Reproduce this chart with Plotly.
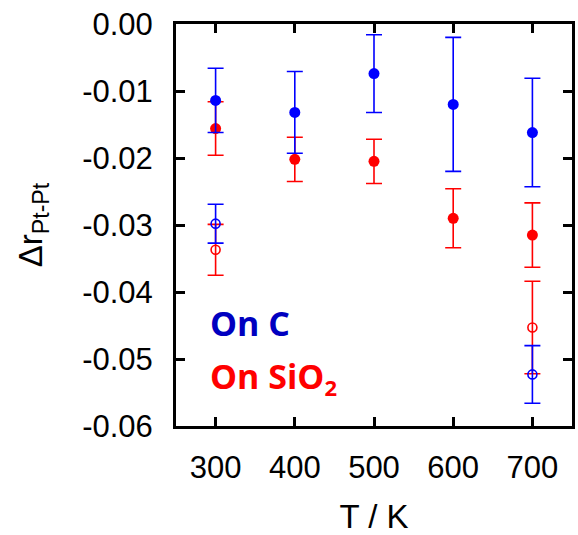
import plotly.graph_objects as go

temps = [300, 400, 500, 600, 700]
c_filled = [-0.0114, -0.0132, -0.0074, -0.0120, -0.0162]
c_filled_err = [0.0048, 0.0061, 0.0058, 0.0100, 0.0081]
si_filled = [-0.0156, -0.0202, -0.0205, -0.0290, -0.0315]
si_filled_err = [0.0040, 0.0033, 0.0033, 0.0044, 0.0048]

open_temps = [300, 700]
c_open = [-0.0298, -0.0523]
c_open_err = [0.0029, 0.0043]
si_open = [-0.0337, -0.0453]
si_open_err = [0.0038, 0.0069]

y_ticks = [0.0, -0.01, -0.02, -0.03, -0.04, -0.05, -0.06]
y_tick_text = ["0.00", "-0.01", "-0.02", "-0.03", "-0.04", "-0.05", "-0.06"]
x_ticks = [300, 400, 500, 600, 700]

BLUE = "#0000FF"
RED = "#FF0000"

fig = go.Figure()

def add(x, y, err, color, filled):
    fig.add_trace(go.Scatter(
        x=x, y=y, mode="markers",
        marker=dict(
            symbol="circle" if filled else "circle-open",
            size=11 if filled else 9,
            color=color,
            line=dict(width=0 if filled else 1.6, color=color),
        ),
        error_y=dict(type="data", array=err, visible=True, color=color,
                     thickness=1.6, width=8),
        showlegend=False,
    ))

add(open_temps, si_open, si_open_err, RED, False)
add(open_temps, c_open, c_open_err, BLUE, False)
add(temps, si_filled, si_filled_err, RED, True)
add(temps, c_filled, c_filled_err, BLUE, True)

axis_font = dict(family="Liberation Sans, Arial, sans-serif", size=31, color="black")
title_font = dict(family="Liberation Sans, Arial, sans-serif", size=33, color="black")

fig.update_layout(
    width=578, height=535,
    margin=dict(l=176, r=3, t=24, b=109),
    paper_bgcolor="white", plot_bgcolor="white",
    font=axis_font,
    xaxis=dict(
        range=[250, 750], tickvals=x_ticks, ticks="inside", ticklen=9, tickwidth=3,
        tickcolor="black", showline=True, linecolor="black", linewidth=3, mirror="ticks",
        showgrid=False, zeroline=False, tickfont=axis_font, ticklabelstandoff=12,
        title=dict(text="T / K", font=title_font, standoff=24),
    ),
    yaxis=dict(
        range=[-0.06, 0.0], tickvals=y_ticks, ticktext=y_tick_text, ticks="inside",
        ticklen=9, tickwidth=3, tickcolor="black", showline=True, linecolor="black",
        linewidth=3, mirror="ticks", showgrid=False, zeroline=False, tickfont=axis_font,
        ticklabelstandoff=14,
        title=dict(text="Δr<sub>Pt-Pt</sub>", font=title_font, standoff=30),
    ),
    annotations=[
        dict(text="<b>On C</b>", x=0.08, y=0.255, xref="paper", yref="paper",
             xanchor="left", yanchor="middle", showarrow=False,
             font=dict(family="Open Sans, sans-serif", size=34, color="#0000C0")),
        dict(text="<b>On SiO<sub><span style='font-size:22px'>2</span></sub></b>",
             x=0.08, y=0.12, xref="paper", yref="paper",
             xanchor="left", yanchor="middle", showarrow=False,
             font=dict(family="Open Sans, sans-serif", size=34, color="#FF0000")),
    ],
)

fig.write_html("out.html")
